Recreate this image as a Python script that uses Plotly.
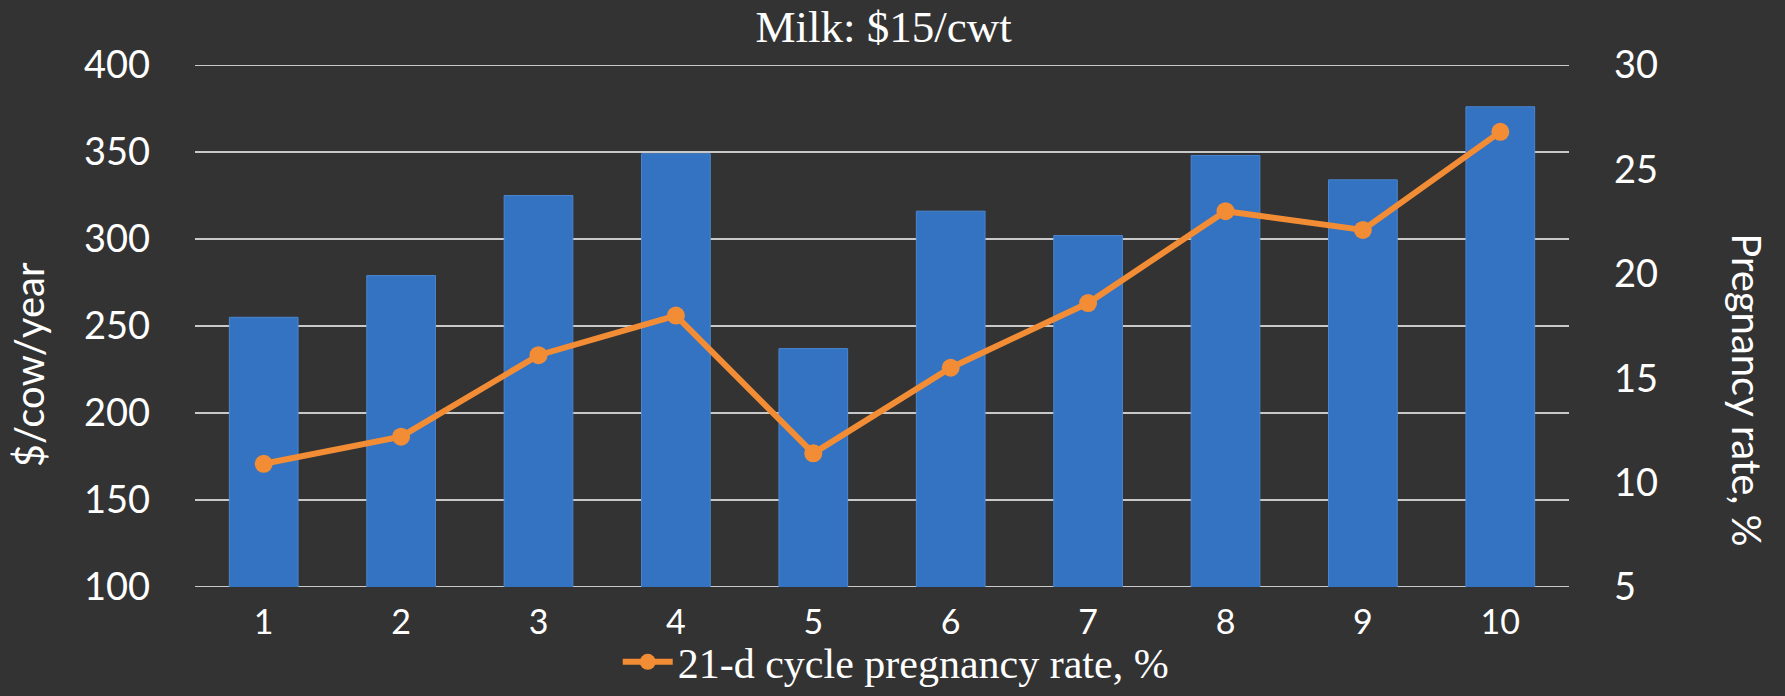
import plotly.graph_objects as go

categories = ["1", "2", "3", "4", "5", "6", "7", "8", "9", "10"]
dollars_per_cow = [255, 279, 325, 349, 237, 316, 302, 348, 334, 376]
pregnancy_rate = [10.9, 12.2, 16.1, 18.0, 11.4, 15.5, 18.6, 23.0, 22.1, 26.8]
left_ticks = [100, 150, 200, 250, 300, 350, 400]
right_ticks = [5, 10, 15, 20, 25, 30]

title_text = "Milk: $15/cwt"
left_title = "$/cow/year"
right_title = "Pregnancy rate, %"
line_name = "21-d cycle pregnancy rate, %"

BG = "#333333"
BAR = "#3472c2"
ORANGE = "#f28d35"
GRID = "#c9c9c9"
SANS = "Lato, Open Sans, sans-serif"
SERIF = "Liberation Serif, DejaVu Serif, serif"

fig = go.Figure()
fig.add_trace(go.Bar(
    x=categories, y=dollars_per_cow, yaxis="y",
    marker=dict(color=BAR, line=dict(color="#4a86d0", width=1)),
    showlegend=False, name="$/cow/year",
))
fig.add_trace(go.Scatter(
    x=categories, y=pregnancy_rate, yaxis="y2",
    mode="lines+markers", name=line_name,
    line=dict(color=ORANGE, width=6),
    marker=dict(color=ORANGE, size=18, symbol="circle"),
))

# horizontal gridlines drawn from the left-axis tick values
for v in left_ticks:
    fig.add_shape(type="line", xref="paper", yref="y", x0=0, x1=1, y0=v, y1=v,
                  line=dict(color=GRID, width=2), layer="below")

fig.update_layout(
    width=1785, height=696,
    paper_bgcolor=BG, plot_bgcolor=BG,
    margin=dict(l=195, r=216, t=65, b=109, autoexpand=False),
    bargap=0.5,
    font=dict(family=SANS, color="white"),
    title=dict(text=title_text, x=0.495, xanchor="center", y=0.962, yanchor="middle",
               font=dict(family=SERIF, size=45, color="white")),
    xaxis=dict(
        type="category", range=[-0.5, 9.5], showgrid=False, zeroline=False, showline=False,
        ticks="", tickfont=dict(family=SANS, size=34, color="white"),
        ticklabelstandoff=12,
    ),
    yaxis=dict(
        range=[100, 400], tickvals=left_ticks, showgrid=False,
        zeroline=False, showline=False, ticks="",
        tickfont=dict(family=SANS, size=38, color="white"), ticklabelstandoff=44,
    ),
    yaxis2=dict(
        range=[5, 30], tickvals=right_ticks, overlaying="y", side="right",
        showgrid=False, zeroline=False, showline=False, ticks="",
        tickfont=dict(family=SANS, size=38, color="white"), ticklabelstandoff=44,
    ),
    legend=dict(
        orientation="h", x=0.51, xanchor="center", y=-0.2088, yanchor="bottom",
        font=dict(family=SERIF, size=42, color="white"), bgcolor="rgba(0,0,0,0)",
        itemwidth=50, borderwidth=0,
    ),
    annotations=[
        dict(text=left_title, xref="paper", yref="paper", x=-0.1208, y=0.425,
             xanchor="center", yanchor="middle", textangle=-90, showarrow=False,
             font=dict(family=SANS, size=40, color="white")),
        dict(text=right_title, xref="paper", yref="paper", x=1.1295, y=0.377,
             xanchor="center", yanchor="middle", textangle=90, showarrow=False,
             font=dict(family=SANS, size=40, color="white")),
    ],
)

fig.write_html(
    "out.html",
    config={"displayModeBar": False},
    post_script="document.body.style.margin='0';document.body.style.background='#333333';document.body.style.overflow='hidden';",
)
